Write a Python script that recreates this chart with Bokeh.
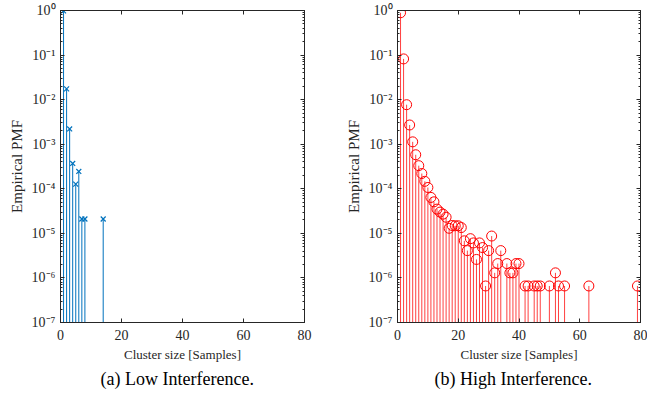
from bokeh.plotting import figure
from bokeh.layouts import row
from bokeh.models import (FixedTicker, LogAxis, LinearAxis, CustomJSTickFormatter,
                          Range1d, Title, ColumnDataSource)
from bokeh.embed import file_html
from bokeh.resources import INLINE

# ---------------- data ----------------
x_low = [1, 2, 3, 4, 5, 6, 7, 8, 14]
pmf_low = [0.98, 1.74e-2, 2.2e-3, 3.7e-4, 1.27e-4, 2.45e-4, 2.1e-5, 2.1e-5, 2.1e-5]

x_high = list(range(1, 35)) + [36, 37, 38, 39, 40, 42, 43, 45, 46, 47, 50, 52, 53, 55, 63, 79]
pmf_high = [0.89, 0.082, 7.7e-3, 2.7e-3, 1.13e-3, 5.8e-4, 3.3e-4, 2.2e-4, 1.47e-4, 1.07e-4,
            6.4e-5, 5.1e-5, 3.5e-5, 3.0e-5, 2.7e-5, 2.3e-5, 1.3e-5, 1.5e-5, 1.48e-5, 1.48e-5,
            1.35e-5, 6.8e-6, 4.1e-6, 7.6e-6, 6.1e-6, 2.6e-6, 6.1e-6, 4.8e-6, 6.6e-7, 4.1e-6,
            8.7e-6, 1.3e-6, 2.1e-6, 4.1e-6,
            2.1e-6, 1.3e-6, 1.3e-6, 2.1e-6, 2.1e-6, 6.6e-7, 6.6e-7, 6.6e-7, 6.6e-7, 6.6e-7,
            6.6e-7, 1.3e-6, 6.6e-7, 6.6e-7, 6.6e-7, 6.6e-7]

x_ticks = [0, 20, 40, 60, 80]
y_exponents = [-7, -6, -5, -4, -3, -2, -1, 0]
captions = ["(a) Low Interference.", "(b) High Interference."]
x_label = "Cluster size [Samples]"
y_label = "Empirical PMF"

FONT = "Liberation Serif"
AX = "#262626"
Y_BOTTOM = 1e-7

y_major = [10.0 ** e for e in y_exponents]
y_minor = [k * 10.0 ** e for e in y_exponents[:-1] for k in range(2, 10)]


def sup_fmt():
    return CustomJSTickFormatter(code=r"""
const sup = {"-":"\u207B","0":"\u2070","1":"\u00B9","2":"\u00B2","3":"\u00B3","4":"\u2074",
             "5":"\u2075","6":"\u2076","7":"\u2077","8":"\u2078","9":"\u2079"};
const e = Math.round(Math.log10(tick));
return "10" + String(e).split("").map(c => sup[c]).join("");
""")


def blank_fmt():
    return CustomJSTickFormatter(code='return "";')


def style_axis(ax, label_size="14px"):
    ax.axis_line_color = AX
    ax.major_tick_line_color = AX
    ax.minor_tick_line_color = AX
    ax.major_tick_in = 4
    ax.major_tick_out = 0
    ax.minor_tick_in = 2
    ax.minor_tick_out = 0
    ax.major_label_text_font = FONT
    ax.major_label_text_color = AX
    ax.major_label_text_font_size = label_size
    ax.axis_label_text_font = FONT
    ax.axis_label_text_color = AX
    ax.axis_label_text_font_size = "13px"
    ax.axis_label_text_font_style = "normal"


def make_panel(xs, ys, color, marker, caption, cap_offset, width, left, right, stem_alpha):
    p = figure(width=width, height=406, y_axis_type="log", output_backend="svg",
               toolbar_location=None, x_range=Range1d(0, 80), y_range=Range1d(Y_BOTTOM, 1),
               min_border_left=left, min_border_right=right, min_border_top=10,
               min_border_bottom=84)
    p.grid.visible = False
    p.outline_line_color = AX
    p.background_fill_color = "white"
    p.border_fill_color = "white"

    p.xaxis.ticker = FixedTicker(ticks=x_ticks)
    p.xaxis.axis_label = x_label
    p.xaxis.major_label_standoff = 7
    p.xaxis.axis_label_standoff = 4
    p.yaxis.ticker = FixedTicker(ticks=y_major, minor_ticks=y_minor)
    p.yaxis.formatter = sup_fmt()
    p.yaxis.axis_label = y_label
    p.yaxis.major_label_standoff = 5
    p.yaxis.axis_label_standoff = 4
    style_axis(p.xaxis[0])
    style_axis(p.yaxis[0])
    p.yaxis.axis_label_text_font_size = "15px"

    top = LinearAxis(ticker=FixedTicker(ticks=x_ticks), formatter=blank_fmt())
    style_axis(top)
    top.major_label_standoff = 0
    p.add_layout(top, "above")
    rgt = LogAxis(ticker=FixedTicker(ticks=y_major, minor_ticks=y_minor), formatter=blank_fmt())
    style_axis(rgt)
    rgt.major_label_standoff = 0
    p.add_layout(rgt, "right")

    src = ColumnDataSource(dict(x=xs, y=ys, y0=[Y_BOTTOM] * len(xs)))
    p.segment(x0="x", y0="y0", x1="x", y1="y", source=src, line_color=color,
              line_width=1, line_alpha=stem_alpha)
    if marker == "x":
        p.scatter("x", "y", source=src, marker="x", size=7, line_color=color, line_width=1.2)
    else:
        p.scatter("x", "y", source=src, marker="circle", size=10, line_color=color,
                  fill_color=None, line_width=1)

    t = Title(text=caption, align="left", text_font=FONT, text_font_size="18px",
              text_font_style="normal", text_color="black", standoff=5, offset=cap_offset)
    p.add_layout(t, "below")
    return p


p1 = make_panel(x_low, pmf_low, "#0072BD", "x", captions[0], 40, 323, 60, 19, 1.0)
p2 = make_panel(x_high, pmf_high, "#FF0000", "o", captions[1], 37, 324, 74, 7, 0.75)

layout = row(p1, p2, spacing=0)
open("out.html", "w").write(file_html(layout, INLINE))
